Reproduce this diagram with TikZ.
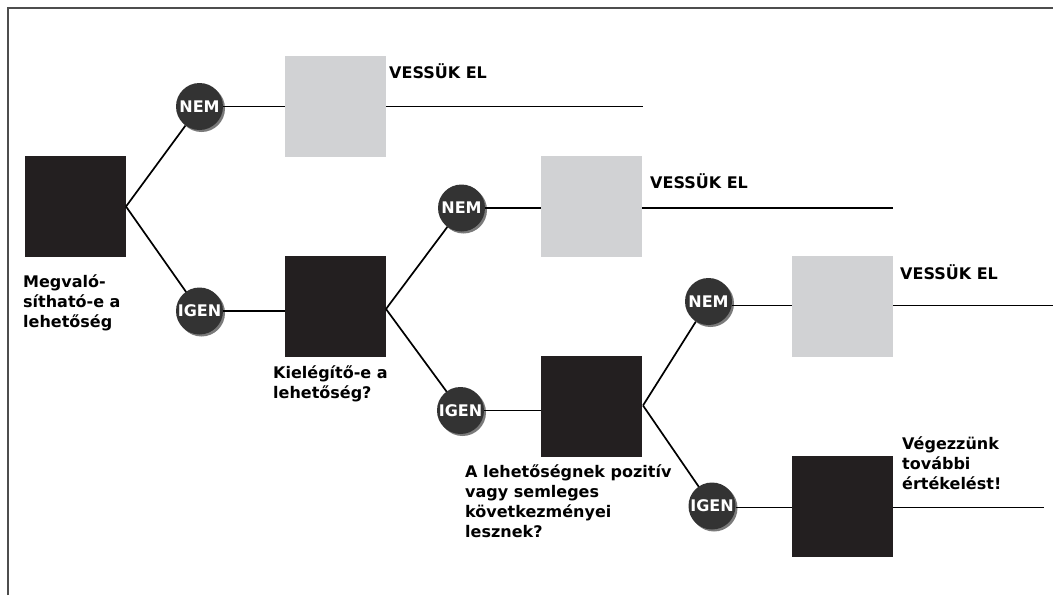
\documentclass[tikz,border=0pt]{standalone}
\usepackage{fontspec}
\setmainfont{DejaVu Sans}
\usetikzlibrary{shadows}
\definecolor{boxblack}{HTML}{231F20}
\definecolor{boxgray}{HTML}{D1D2D4}
\definecolor{dotfill}{HTML}{333333}
\definecolor{shadowgray}{HTML}{7A7A7A}
\definecolor{framegray}{HTML}{4D4D4D}
\begin{document}
\begin{tikzpicture}[x=1pt,y=-1pt,
  blk/.style={fill=boxblack, minimum size=101pt, inner sep=0pt, draw=none},
  gry/.style={fill=boxgray, minimum size=101pt, inner sep=0pt, draw=none},
  dot/.style={circle, fill=dotfill, minimum size=47pt, inner sep=0pt, text=white,
    font=\bfseries\fontsize{16}{16}\selectfont,
    drop shadow={shadow xshift=2pt, shadow yshift=-2pt, fill=shadowgray, opacity=1}},
  lbl/.style={font=\bfseries\fontsize{16}{20}\selectfont, align=left, inner sep=0pt, anchor=base west},
  conn/.style={line width=1.7pt, black},
  frame/.style={line width=1.8pt, framegray}]
\useasboundingbox (0,0) rectangle (1053,595);
% frame
\coordinate (fbl) at (8,595);
\coordinate (ftl) at (8,8);
\coordinate (ftr) at (1053,8);
\draw[frame] (fbl) -- (ftl) -- (ftr);
% boxes
\node[blk] (b1) at (75.5,206.5) {};
\node[gry] (g1) at (335.5,106.5) {};
\node[blk] (b2) at (335.5,306.5) {};
\node[gry] (g2) at (591.5,206.5) {};
\node[blk] (b3) at (591.5,406.5) {};
\node[gry] (g3) at (842.5,306.5) {};
\node[blk] (b4) at (842.5,506.5) {};
% line ends
\coordinate (e1) at (643,106.5);
\coordinate (e2) at (893,208);
\coordinate (e3) at (1053,305.5);
\coordinate (e4) at (1044,507.5);
% connectors (drawn before circles)
\coordinate (v1) at (126,206.5);
\coordinate (v2) at (386,309);
\coordinate (v3) at (643,405.5);
\coordinate (n1c) at (199.5,106.5);
\coordinate (i1c) at (199.5,311);
\coordinate (n2c) at (461.5,208);
\coordinate (i2c) at (460.5,410.5);
\coordinate (n3c) at (708.5,301.5);
\coordinate (i3c) at (712,506);
\draw[conn] (v1) -- (n1c);
\draw[conn] (v1) -- (i1c);
\draw[conn] (v2) -- (n2c);
\draw[conn] (v2) -- (i2c);
\draw[conn] (v3) -- (n3c);
\draw[conn] (v3) -- (i3c);
% circles
\node[dot] (n1) at (n1c) {NEM};
\node[dot] (i1) at (i1c) {IGEN};
\node[dot] (n2) at (n2c) {NEM};
\node[dot] (i2) at (i2c) {IGEN};
\node[dot] (n3) at (n3c) {NEM};
\node[dot] (i3) at (i3c) {IGEN};
% horizontal connectors
\draw[conn] (n1.east) -- (g1.west);
\draw[conn] (g1.east) -- (e1);
\draw[conn] (i1.east) -- (i1.east -| b2.west);
\draw[conn] (n2.east) -- (n2.east -| g2.west);
\draw[conn] (g2.east |- e2) -- (e2);
\draw[conn] (i2.east) -- (i2.east -| b3.west);
\draw[conn] (n3.east |- e3) -- (e3 -| g3.west);
\draw[conn] (g3.east |- e3) -- (e3);
\draw[conn] (i3.east |- e4) -- (e4 -| b4.west);
\draw[conn] (b4.east |- e4) -- (e4);
% labels (base west = baseline of the last line)
\node[lbl] (t1) at (389,78) {VESSÜK EL};
\node[lbl] (t2) at (650,188) {VESSÜK EL};
\node[lbl] (t3) at (900,279) {VESSÜK EL};
\node[lbl] (q1) at (23,327) {Megvaló-\\sítható-e a\\lehetőség};
\node[lbl] (q2) at (273,398) {Kielégítő-e a\\lehetőség?};
\node[lbl] (q3) at (465,537) {A lehetőségnek pozitív\\vagy semleges\\következményei\\lesznek?};
\node[lbl] (q4) at (902,489) {Végezzünk\\további\\értékelést!};
\end{tikzpicture}
\end{document}
